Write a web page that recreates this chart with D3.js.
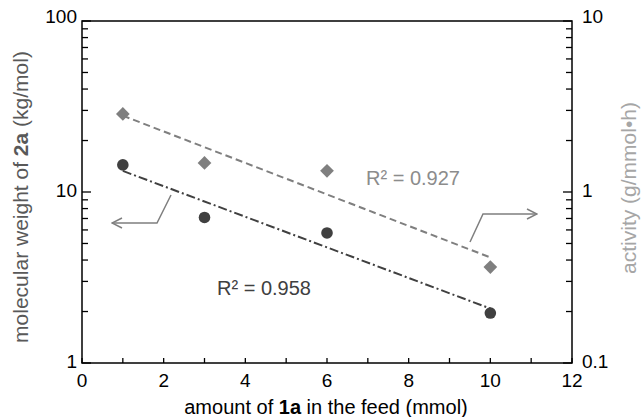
<!DOCTYPE html>
<html>
<head>
<meta charset="utf-8">
<script src="https://cdn.jsdelivr.net/npm/d3@7"></script>
<style>
  body { margin: 0; background: #fff; }
  text { font-family: "Liberation Sans", Arial, sans-serif; }
</style>
</head>
<body>
<div id="chart"></div>
<script>
// Data
const feedAmounts = [1, 3, 6, 10];           // mmol of 1a
const molWeights = [14.4, 7.1, 5.76, 1.96];  // kg/mol, left axis (circles)
const activities = [2.86, 1.48, 1.33, 0.364]; // g/mmol·h, right axis (diamonds)
const xTicks = [0, 2, 4, 6, 8, 10, 12];
const leftTicks = [1, 10, 100];
const rightTicks = [0.1, 1, 10];

const width = 642, height = 417;
const margin = { top: 21, right: 70, bottom: 54, left: 82 };
const plotW = width - margin.left - margin.right;
const plotH = height - margin.top - margin.bottom;

const svg = d3.select("#chart").append("svg")
  .attr("width", width).attr("height", height);
const g = svg.append("g").attr("transform", `translate(${margin.left},${margin.top})`);

const x = d3.scaleLinear().domain([0, 12]).range([0, plotW]);
const yL = d3.scaleLog().domain([1, 100]).range([plotH, 0]);
const yR = d3.scaleLog().domain([0.1, 10]).range([plotH, 0]);

// exponential trendline (least squares on log10), like a spreadsheet would do
function expFit(xs, ys) {
  const ly = ys.map(Math.log10);
  const mx = d3.mean(xs), my = d3.mean(ly);
  const sxy = d3.sum(xs, (v, i) => (v - mx) * (ly[i] - my));
  const sxx = d3.sum(xs, v => (v - mx) ** 2);
  const b = sxy / sxx, a = my - b * mx;
  return t => Math.pow(10, a + b * t);
}

// frame
g.append("rect").attr("width", plotW).attr("height", plotH)
  .attr("fill", "none").attr("stroke", "#000").attr("stroke-width", 1.5);

// log tick positions 1..9 per decade
function logTickValues(lo, hi) {
  const out = [];
  for (let d = lo; d < hi; d *= 10) for (let k = 1; k < 10; k++) out.push(d * k);
  out.push(hi);
  return out;
}
// ticks, all pointing inward
g.append("g").selectAll("line").data(logTickValues(1, 100)).join("line")
  .attr("x1", 0).attr("x2", d => leftTicks.includes(d) ? 9 : 6)
  .attr("y1", d => yL(d)).attr("y2", d => yL(d))
  .attr("stroke", "#000").attr("stroke-width", 1.3);
g.append("g").selectAll("line").data(logTickValues(0.1, 10)).join("line")
  .attr("x1", plotW).attr("x2", d => plotW - (rightTicks.includes(d) ? 9 : 6))
  .attr("y1", d => yR(d)).attr("y2", d => yR(d))
  .attr("stroke", "#000").attr("stroke-width", 1.3);
g.append("g").selectAll("line").data(d3.range(0, 13)).join("line")
  .attr("x1", d => x(d)).attr("x2", d => x(d))
  .attr("y1", plotH).attr("y2", plotH - 5)
  .attr("stroke", "#000").attr("stroke-width", 1.3);

// tick labels
g.append("g").selectAll("text").data(leftTicks).join("text")
  .attr("x", -5).attr("y", d => yL(d)).attr("dy", d => d === 100 ? "0.1em" : "0.25em")
  .attr("text-anchor", "end").attr("font-size", 19).attr("fill", "#000")
  .text(d => d);
g.append("g").selectAll("text").data(rightTicks).join("text")
  .attr("x", plotW + 10).attr("y", d => yR(d)).attr("dy", d => d === 10 ? "0.1em" : "0.25em")
  .attr("text-anchor", "start").attr("font-size", 19).attr("fill", "#000")
  .text(d => d);
g.append("g").selectAll("text").data(xTicks).join("text")
  .attr("x", d => x(d)).attr("y", plotH + 24)
  .attr("text-anchor", "middle").attr("font-size", 19).attr("fill", "#000")
  .text(d => d);

// axis titles
const xt = svg.append("text").attr("x", margin.left + plotW / 2 - 1).attr("y", 414)
  .attr("text-anchor", "middle").attr("font-size", 20).attr("fill", "#000");
xt.append("tspan").text("amount  of ");
xt.append("tspan").attr("font-weight", "bold").text("1a");
xt.append("tspan").text(" in the feed (mmol)");

const lt = svg.append("text")
  .attr("transform", `translate(28,${margin.top + plotH / 2 + 5}) rotate(-90)`)
  .attr("text-anchor", "middle").attr("font-size", 21).attr("fill", "#595959");
lt.append("tspan").text("molecular weight of ");
lt.append("tspan").attr("font-weight", "bold").text("2a");
lt.append("tspan").text(" (kg/mol)");

svg.append("text")
  .attr("transform", `translate(636,188) rotate(-90)`)
  .attr("text-anchor", "middle").attr("font-size", 21).attr("fill", "#a6a6a6")
  .text("activity (g/mmol•h)");

// trendlines
const fitR = expFit(feedAmounts, activities);
const fitL = expFit(feedAmounts, molWeights);
const ends = d3.extent(feedAmounts);
g.append("path")
  .attr("d", d3.line().x(d => x(d)).y(d => yR(fitR(d)))(ends))
  .attr("fill", "none").attr("stroke", "#7f7f7f").attr("stroke-width", 2)
  .attr("stroke-dasharray", "7,4");
g.append("path")
  .attr("d", d3.line().x(d => x(d)).y(d => yL(fitL(d)))(ends))
  .attr("fill", "none").attr("stroke", "#404040").attr("stroke-width", 2)
  .attr("stroke-dasharray", "9,3,2,3");

// markers
g.append("g").selectAll("path").data(feedAmounts).join("path")
  .attr("d", d3.symbol(d3.symbolDiamond2, 120))
  .attr("transform", (d, i) => `translate(${x(d)},${yR(activities[i])})`)
  .attr("fill", "#7f7f7f");
g.append("g").selectAll("circle").data(feedAmounts).join("circle")
  .attr("cx", d => x(d)).attr("cy", (d, i) => yL(molWeights[i]))
  .attr("r", 5.8).attr("fill", "#404040");

// R² labels
svg.append("text").attr("x", 366).attr("y", 185).attr("font-size", 20)
  .attr("fill", "#8c8c8c").text("R² = 0.927");
svg.append("text").attr("x", 217).attr("y", 295).attr("font-size", 20)
  .attr("fill", "#404040").text("R² = 0.958");

// arrows pointing to the axes
svg.append("defs").append("marker").attr("id", "arr")
  .attr("viewBox", "0 0 12 12").attr("refX", 11).attr("refY", 6)
  .attr("markerWidth", 12).attr("markerHeight", 12).attr("markerUnits", "userSpaceOnUse")
  .attr("orient", "auto")
  .append("path").attr("d", "M1,1 L11,6 L1,11").attr("fill", "none")
  .attr("stroke", "#7f7f7f").attr("stroke-width", 1.5);
svg.append("path").attr("d", "M171,195 L157,223 L112,223")
  .attr("fill", "none").attr("stroke", "#7f7f7f").attr("stroke-width", 1.5)
  .attr("marker-end", "url(#arr)");
svg.append("path").attr("d", "M470,242 L483,214 L537,214")
  .attr("fill", "none").attr("stroke", "#7f7f7f").attr("stroke-width", 1.5)
  .attr("marker-end", "url(#arr)");
</script>
</body>
</html>
